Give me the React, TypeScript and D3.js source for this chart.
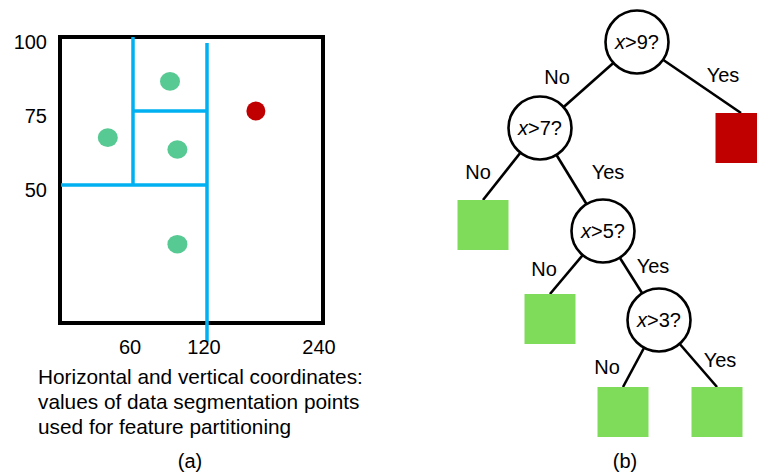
import React from "react";
import * as d3 from "d3";

// ---------- Panel (a) data ----------
const xTickValues = [60, 120, 240];
const yTickValues = [100, 75, 50];
const greenPointsX = [90, 39, 96, 96];
const greenPointsY = [85, 66, 62, 30];
const redPointsX = [171];
const redPointsY = [75];
// split segments: [x1, y1, x2, y2] in data units
const splitSegments = [
  [60, 100, 60, 50],
  [120, 98, 120, -3],
  [0, 50, 120, 50],
  [60, 75, 120, 75],
];
const captionLines = [
  "Horizontal and vertical coordinates:",
  "values of data segmentation points",
  "used for feature partitioning",
];

// ---------- Panel (b) data ----------
const treeData = {
  id: "q9", threshold: 9,
  children: [
    {
      id: "q7", threshold: 7, answer: "No",
      children: [
        { id: "l1", answer: "No", leaf: "green" },
        {
          id: "q5", threshold: 5, answer: "Yes",
          children: [
            { id: "l2", answer: "No", leaf: "green" },
            {
              id: "q3", threshold: 3, answer: "Yes",
              children: [
                { id: "l3", answer: "No", leaf: "green" },
                { id: "l4", answer: "Yes", leaf: "green" },
              ],
            },
          ],
        },
      ],
    },
    { id: "l0", answer: "Yes", leaf: "red" },
  ],
};

// ---------- Layout (diagram positions) ----------
const nodePos: Record<string, [number, number]> = {
  q9: [637, 42], q7: [540, 128], q5: [603, 231], q3: [659, 320],
  l0: [741, 113], l1: [483, 200], l2: [550, 294], l3: [623, 387], l4: [717, 387],
};
const answerPos: Record<string, [number, number]> = {
  q7: [557, 77], l0: [723, 75], l1: [478, 172], q5: [608, 172],
  l2: [544, 269], q3: [653, 266], l3: [607, 367], l4: [720, 360],
};

const FONT = "'Liberation Sans', Arial, sans-serif";
const BLUE = "#00b0f0";
const GREEN_PT = "#57c993";
const RED = "#c00000";
const GREEN_LEAF = "#7fdb5a";

export default function App() {
  const box = { left: 60, right: 323, top: 37, bottom: 323 };
  const x = d3.scaleLinear().domain([0, 60, 120, 240]).range([61, 133, 207, 322]);
  const y = d3.scaleLinear().domain([50, 100]).range([185, 37]);

  const root = d3.hierarchy<any>(treeData);
  const links = root.links();
  const nodes = root.descendants();
  const R = 31.5;
  const S = 51;

  return (
    <svg width={757} height={475} style={{ position: "absolute", left: 0, top: 0, background: "#fff" }} fontFamily={FONT}>
      <rect x={0} y={0} width={757} height={475} fill="#fff" />
      {/* Panel (a) */}
      <rect x={box.left} y={box.top} width={box.right - box.left} height={box.bottom - box.top}
        fill="none" stroke="#000" strokeWidth={4} />
      {splitSegments.map((s, i) => (
        <line key={i} x1={x(s[0])} y1={y(s[1])} x2={x(s[2])} y2={y(s[3])}
          stroke={BLUE} strokeWidth={3.5} />
      ))}
      {greenPointsX.map((v, i) => (
        <ellipse key={"g" + i} cx={x(v)} cy={y(greenPointsY[i])} rx={10} ry={9.3} fill={GREEN_PT} />
      ))}
      {redPointsX.map((v, i) => (
        <circle key={"r" + i} cx={x(v)} cy={y(redPointsY[i])} r={9.5} fill={RED} />
      ))}
      {yTickValues.map((v) => (
        <text key={v} x={47} y={y(v) + 12} textAnchor="end" fontSize={20} fill="#000">{v}</text>
      ))}
      {xTickValues.map((v) => (
        <text key={v} x={x(v) - 3} y={354} textAnchor="middle" fontSize={20} fill="#000">{v}</text>
      ))}
      {captionLines.map((t, i) => (
        <text key={i} x={38} y={384 + i * 25} fontSize={20.8} fill="#000">{t}</text>
      ))}
      <text x={190} y={468} textAnchor="middle" fontSize={20} fill="#000">(a)</text>

      {/* Panel (b) */}
      {links.map((l) => {
        const [x1, y1] = nodePos[l.source.data.id];
        const [x2, y2] = nodePos[l.target.data.id];
        return <line key={l.target.data.id} x1={x1} y1={y1} x2={x2} y2={y2} stroke="#000" strokeWidth={2.6} />;
      })}
      {nodes.map((n) => {
        const [cx, cy] = nodePos[n.data.id];
        if (n.data.leaf) {
          return <rect key={n.data.id} x={cx - S / 2} y={cy} width={S} height={S - 1}
            fill={n.data.leaf === "red" ? RED : GREEN_LEAF} />;
        }
        return (
          <g key={n.data.id}>
            <circle cx={cx} cy={cy} r={R} fill="#fff" stroke="#000" strokeWidth={2.6} />
            <text x={cx} y={cy + 7} textAnchor="middle" fontSize={20} fill="#000">
              <tspan fontStyle="italic">x</tspan>
              <tspan>{">" + n.data.threshold + "?"}</tspan>
            </text>
          </g>
        );
      })}
      {nodes.filter((n) => n.data.answer).map((n) => {
        const [ax, ay] = answerPos[n.data.id];
        return <text key={"a" + n.data.id} x={ax} y={ay + 7} textAnchor="middle" fontSize={20} fill="#000">{n.data.answer}</text>;
      })}
      <text x={625} y={468} textAnchor="middle" fontSize={20} fill="#000">(b)</text>
    </svg>
  );
}
